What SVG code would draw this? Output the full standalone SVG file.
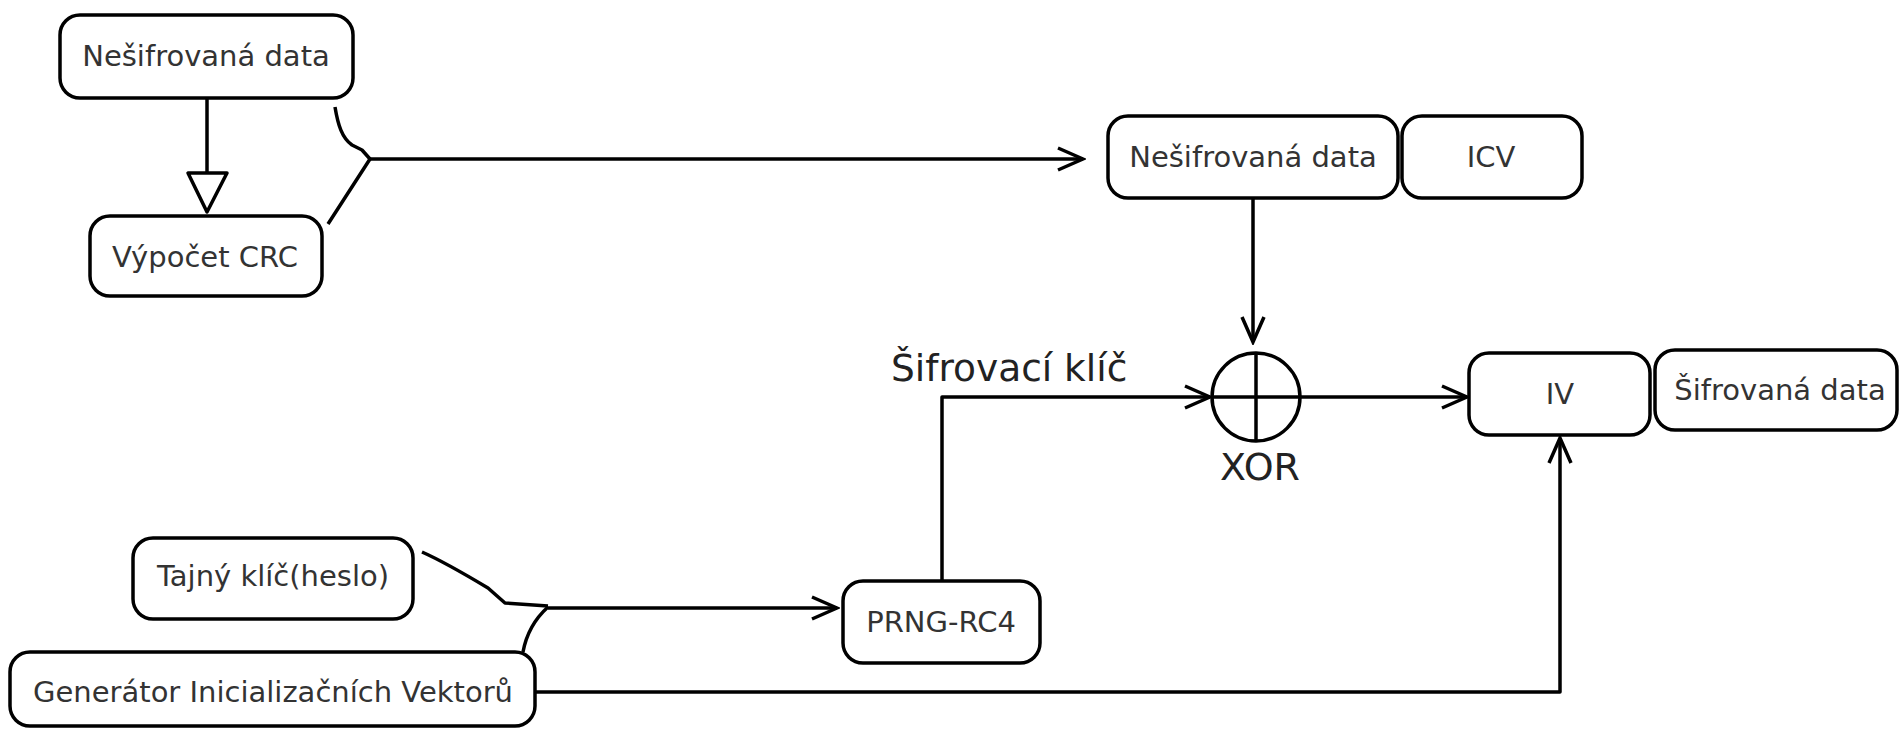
<svg xmlns="http://www.w3.org/2000/svg" width="1901" height="729" viewBox="0 0 1901 729">
<style>
.box{fill:#fff;stroke:#000;stroke-width:3.5}
.lbl{font-family:"DejaVu Sans","Liberation Sans",sans-serif;font-size:29px;fill:#333;text-anchor:middle}
.big{font-family:"DejaVu Sans","Liberation Sans",sans-serif;font-size:37.5px;fill:#222}
.ln{fill:none;stroke:#000;stroke-width:3.5;stroke-linejoin:round}
</style>
<defs>
<marker id="arr" markerUnits="userSpaceOnUse" viewBox="-28 -14 31 28" markerWidth="31" markerHeight="28" refX="0" refY="0" orient="auto">
<path d="M-25,-11 L0,0 L-25,11" fill="none" stroke="#000" stroke-width="3.5"/>
</marker>
</defs>
<rect width="1901" height="729" fill="#fff"/>
<g id="connectors">
<line class="ln" x1="207" y1="98" x2="207" y2="173"/>
<polygon class="ln" points="188,173 227,173 207,212" style="fill:#fff"/>
<path class="ln" d="M335,107 C338,125 342,138 352,145 L362,150 L370,159 Q350,190 328,224"/>
<line class="ln" x1="370" y1="159" x2="1083" y2="159" marker-end="url(#arr)"/>
<line class="ln" x1="1253" y1="198" x2="1253" y2="342" marker-end="url(#arr)"/>
<polyline class="ln" points="942,581 942,397 1210,397" marker-end="url(#arr)"/>
<line class="ln" x1="1300" y1="397" x2="1467" y2="397" marker-end="url(#arr)"/>
<polyline class="ln" points="535,692 1560,692 1560,438" marker-end="url(#arr)"/>
<path class="ln" d="M422,552 C440,560 468,576 488,588 L505,603 L548,606"/>
<path class="ln" d="M548,607 Q528,625 523,652"/>
<line class="ln" x1="548" y1="608" x2="837" y2="608" marker-end="url(#arr)"/>
</g>
<g id="n-plain1"><rect class="box" x="60" y="15" width="293" height="83" rx="20"/><text class="lbl" x="206" y="66">Nešifrovaná data</text></g>
<g id="n-crc"><rect class="box" x="90" y="216" width="232" height="80" rx="20"/><text class="lbl" x="205" y="267">Výpočet CRC</text></g>
<g id="n-plain2"><rect class="box" x="1108" y="116" width="290" height="82" rx="20"/><text class="lbl" x="1253" y="167">Nešifrovaná data</text></g>
<g id="n-icv"><rect class="box" x="1402" y="116" width="180" height="82" rx="20"/><text class="lbl" x="1491" y="167">ICV</text></g>
<g id="n-xor"><circle cx="1256" cy="397" r="44" fill="none" stroke="#000" stroke-width="3.5"/><line class="ln" x1="1256" y1="353" x2="1256" y2="441"/><line class="ln" x1="1212" y1="397" x2="1300" y2="397"/><text class="big" x="1260" y="480" text-anchor="middle" style="font-size:38px">XOR</text></g>
<g id="n-key"><text class="big" x="891" y="381">Šifrovací klíč</text></g>
<g id="n-iv"><rect class="box" x="1469" y="353" width="181" height="82" rx="20"/><text class="lbl" x="1560" y="404">IV</text></g>
<g id="n-enc"><rect class="box" x="1655" y="350" width="242" height="80" rx="20"/><text class="lbl" x="1780" y="400">Šifrovaná data</text></g>
<g id="n-prng"><rect class="box" x="843" y="581" width="197" height="82" rx="20"/><text class="lbl" x="941" y="632">PRNG-RC4</text></g>
<g id="n-secret"><rect class="box" x="133" y="538" width="280" height="81" rx="20"/><text class="lbl" x="273" y="586">Tajný klíč(heslo)</text></g>
<g id="n-gen"><rect class="box" x="10" y="652" width="525" height="74" rx="20"/><text class="lbl" x="273" y="702">Generátor Inicializačních Vektorů</text></g>
</svg>
